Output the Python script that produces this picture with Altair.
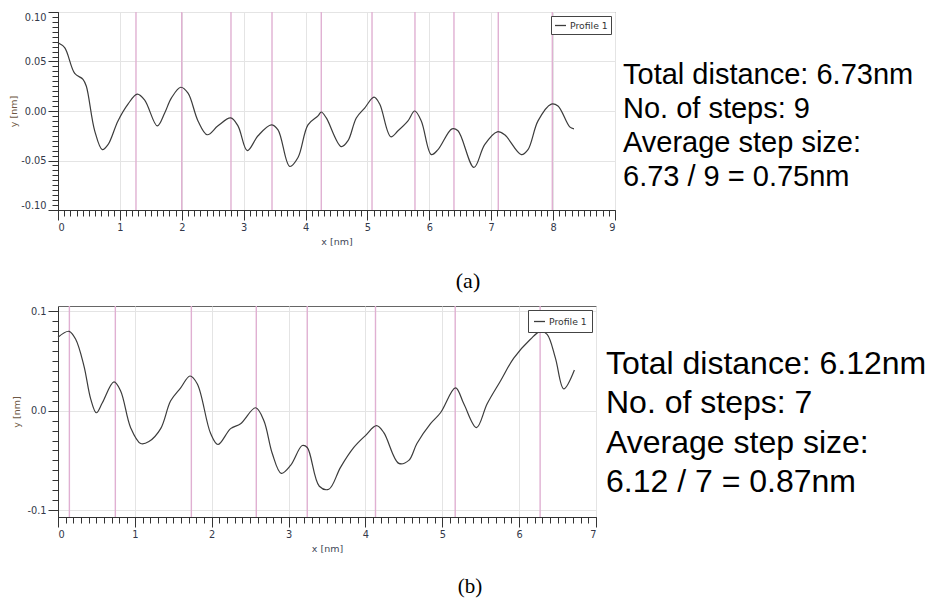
import altair as alt
import pandas as pd

# ---------------- panel (a) ----------------
a_x = [0.000, 0.108, 0.270, 0.404, 0.458, 0.593, 0.716, 0.808, 0.969, 1.131,
       1.281, 1.401, 1.604, 1.724, 1.831, 1.983, 2.101, 2.262, 2.412, 2.585,
       2.790, 2.908, 3.059, 3.232, 3.447, 3.555, 3.744, 3.878, 4.039, 4.201,
       4.254, 4.335, 4.577, 4.686, 4.820, 4.955, 5.106, 5.198, 5.376, 5.494,
       5.655, 5.763, 5.870, 6.032, 6.140, 6.366, 6.463, 6.721, 6.894, 7.098,
       7.218, 7.486, 7.594, 7.756, 7.971, 8.079, 8.268, 8.337]
a_y = [0.069, 0.064, 0.038, 0.032, 0.025, -0.020, -0.039, -0.034, -0.010, 0.007,
       0.017, 0.011, -0.015, -0.002, 0.013, 0.024, 0.018, -0.010, -0.024, -0.015,
       -0.007, -0.015, -0.040, -0.025, -0.014, -0.019, -0.056, -0.047, -0.014, -0.005,
       -0.001, -0.007, -0.036, -0.030, -0.007, 0.003, 0.014, 0.007, -0.026, -0.020,
       -0.010, 0.000, -0.010, -0.044, -0.039, -0.018, -0.020, -0.057, -0.034, -0.021,
       -0.024, -0.044, -0.039, -0.010, 0.007, 0.005, -0.016, -0.018]
a_steps = [1.260, 1.999, 2.795, 3.458, 4.254, 5.074, 5.768, 6.398, 7.114, 7.987]
a_text = ["Total distance: 6.73nm", "No. of steps: 9", "Average step size:",
          "6.73 / 9 = 0.75nm"]
a_xticks = [0, 1, 2, 3, 4, 5, 6, 7, 8, 9]
a_yticks = [-0.10, -0.05, 0.00, 0.05, 0.10]
a_xminor = [round(i * 0.1, 1) for i in range(0, 91)]
a_yminor = [round(-0.1 + i * 0.005, 3) for i in range(0, 41)]

# ---------------- panel (b) ----------------
b_x = [0.000, 0.143, 0.230, 0.338, 0.425, 0.499, 0.577, 0.728, 0.815, 0.945,
       1.076, 1.183, 1.336, 1.466, 1.596, 1.717, 1.813, 1.986, 2.081, 2.246,
       2.376, 2.571, 2.679, 2.788, 2.905, 3.026, 3.178, 3.243, 3.400, 3.524,
       3.676, 3.849, 4.000, 4.144, 4.239, 4.434, 4.564, 4.670, 4.847, 4.977,
       5.172, 5.280, 5.445, 5.584, 5.757, 5.930, 6.147, 6.277, 6.364, 6.472,
       6.580, 6.719]
b_y = [0.074, 0.080, 0.072, 0.045, 0.012, -0.002, 0.008, 0.029, 0.020, -0.017,
       -0.033, -0.031, -0.018, 0.010, 0.023, 0.035, 0.027, -0.023, -0.034, -0.018,
       -0.013, 0.003, -0.010, -0.043, -0.063, -0.055, -0.035, -0.037, -0.076, -0.079,
       -0.057, -0.037, -0.025, -0.015, -0.022, -0.053, -0.050, -0.033, -0.013, -0.002,
       0.023, 0.007, -0.017, 0.007, 0.030, 0.053, 0.072, 0.080, 0.077, 0.053,
       0.022, 0.041]
b_steps = [0.148, 0.746, 1.735, 2.580, 3.243, 4.131, 5.168, 6.273]
b_text = ["Total distance: 6.12nm", "No. of steps: 7", "Average step size:",
          "6.12 / 7 = 0.87nm"]
b_xticks = [0, 1, 2, 3, 4, 5, 6, 7]
b_yticks = [-0.1, 0.0, 0.1]
b_xminor = [round(i * 0.1, 1) for i in range(0, 71)]
b_yminor = [round(-0.1 + i * 0.01, 2) for i in range(0, 21)]

LABEL_FONT = "DejaVu Sans"
LABEL_COLOR = "#33384a"
PINK = "#e0b0d2"
CURVE = "#3c3c3c"


def panel(xs, ys, steps, lines, caption, xdom, ydom, w, h, xmaj, ymaj, xmin, ymin,
          yfmt, yextent, ytp, text_fs, text_lh, text_dx, text_dy, text_font,
          cap_x, cap_y, cap_fs, leg_pad):
    curve_df = pd.DataFrame({"x": xs, "y": ys, "series": ["Profile 1"] * len(xs)})
    steps_df = pd.DataFrame({"x": steps})
    xscale = alt.Scale(domain=xdom, nice=False, zero=False)
    yscale = alt.Scale(domain=ydom, nice=False, zero=False)

    x_major = alt.Axis(
        orient="bottom", values=xmaj, format="d", grid=True, gridColor="#e4e4e4",
        tickSize=10, tickColor="#333333", domainColor="#333333",
        labelFont=LABEL_FONT, labelFontSize=9.8, labelColor=LABEL_COLOR,
        labelPadding=2, labelFlush=True, title="x [nm]", titleFont=LABEL_FONT,
        titleFontSize=9.5, titleFontWeight="normal", titleColor="#3e4657",
        titlePadding=5)
    y_major = alt.Axis(
        orient="left", values=ymaj, grid=True, gridColor="#e4e4e4",
        tickSize=10, tickColor="#333333", domainColor="#333333",
        labelFont=LABEL_FONT, labelFontSize=9.8, labelColor=LABEL_COLOR,
        labelPadding=2, labelFlush=True,
        labelExpr="replace(format(datum.value, '" + yfmt + "'), '\u2212', '-')",
        minExtent=yextent, maxExtent=yextent,
        title="y [nm]", titleFont=LABEL_FONT, titleFontSize=9.5,
        titleFontWeight="normal", titleColor="#6e5844", titlePadding=ytp)
    x_minor = alt.Axis(orient="bottom", values=xmin, labels=False, grid=False,
                       tickSize=6, tickColor="#333333", domain=False)
    y_minor = alt.Axis(orient="left", values=ymin, labels=False, grid=False,
                       tickSize=6, tickColor="#333333", domain=False)

    minor = alt.Chart(curve_df).mark_point(opacity=0).encode(
        x=alt.X("x:Q", scale=xscale, axis=x_minor, title=None),
        y=alt.Y("y:Q", scale=yscale, axis=y_minor, title=None),
    )
    rules = alt.Chart(steps_df).mark_rule(color=PINK, strokeWidth=1.4).encode(
        x=alt.X("x:Q", scale=xscale, axis=x_major)
    )
    line = alt.Chart(curve_df).mark_line(strokeWidth=1.2, interpolate="catmull-rom").encode(
        x=alt.X("x:Q", scale=xscale, axis=x_major),
        y=alt.Y("y:Q", scale=yscale, axis=y_major),
        color=alt.Color("series:N", scale=alt.Scale(range=[CURVE]),
                        legend=alt.Legend(title=None, orient="top-right", offset=4,
                                          padding=leg_pad, strokeColor="#444444",
                                          fillColor="white", symbolType="stroke",
                                          symbolSize=121, symbolStrokeWidth=1.3,
                                          labelFont=LABEL_FONT, labelFontSize=9.3,
                                          labelColor="#333333", labelOffset=3,
                                          cornerRadius=0)),
    )
    inner = alt.layer(rules, line)

    text_df = pd.DataFrame({"t": ["\n".join(lines)]})
    text = alt.Chart(text_df).mark_text(
        align="left", baseline="top", lineBreak="\n", lineHeight=text_lh,
        font=text_font, fontSize=text_fs, color="black").encode(
        x=alt.value(text_dx), y=alt.value(text_dy), text="t:N")

    cap_df = pd.DataFrame({"t": [caption]})
    cap = alt.Chart(cap_df).mark_text(
        align="center", baseline="middle", font="Liberation Serif",
        fontSize=cap_fs, color="black").encode(
        x=alt.value(cap_x), y=alt.value(cap_y), text="t:N")

    return alt.layer(minor, inner, text, cap).resolve_axis(
        x="independent", y="independent").properties(width=w, height=h)


pa = panel(a_x, a_y, a_steps, a_text, "(a)", [0, 9], [-0.1, 0.1], 557, 198,
           a_xticks, a_yticks, a_xminor, a_yminor, ".2f", 34, 5.3,
           29, 34, 565, 49, "Liberation Sans", 410, 269, 22, 3)
pb = panel(b_x, b_y, b_steps, b_text, "(b)", [0, 7], [-0.107, 0.1055], 538, 211,
           b_xticks, b_yticks, b_xminor, b_yminor, ".1f", 32, 4.5,
           32, 39.3, 548, 43, "Liberation Sans", 412, 281, 21, 5)

chart = alt.vconcat(pa, pb, spacing=11).resolve_legend(color="independent").configure(
    padding={"left": 8, "top": 10, "right": 0, "bottom": 0}
).configure_view(stroke="#666666", strokeWidth=1)

chart.save("out.html", embed_options={"renderer": "svg", "actions": False})
